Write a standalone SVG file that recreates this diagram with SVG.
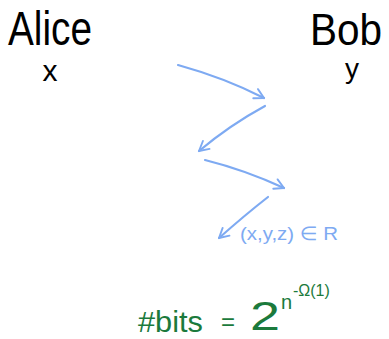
<svg xmlns="http://www.w3.org/2000/svg" width="389" height="339" viewBox="0 0 389 339">
<defs>
<style>
.ink{font-family:"Liberation Sans","DejaVu Sans",sans-serif;fill:#000}
.blue{font-family:"Liberation Sans","DejaVu Sans",sans-serif;fill:#7eaaf2}
.green{font-family:"Liberation Sans","DejaVu Sans",sans-serif;fill:#1b7a3c}
.arrow{fill:none;stroke:#7eaaf2;stroke-width:2.2;stroke-linecap:round;stroke-linejoin:round;marker-end:url(#head)}
</style>
<marker id="head" markerUnits="userSpaceOnUse" markerWidth="24" markerHeight="24" refX="0" refY="0" viewBox="-14 -12 28 24" orient="auto" overflow="visible">
<path d="M-11,-6 L0,0 L-11,6" fill="none" stroke="#7eaaf2" stroke-width="2.2" stroke-linecap="round" stroke-linejoin="round"/>
</marker>
</defs>
<rect width="389" height="339" fill="#fff"/>
<g id="alice">
<text class="ink" x="8" y="45" font-size="48" textLength="84" lengthAdjust="spacingAndGlyphs">Alice</text>
<text class="ink" x="50" y="81" font-size="30" text-anchor="middle">x</text>
</g>
<g id="bob">
<text class="ink" x="310" y="45" font-size="44" textLength="72" lengthAdjust="spacingAndGlyphs">Bob</text>
<text class="ink" x="352" y="78" font-size="28" text-anchor="middle">y</text>
</g>
<g id="connectors">
<path class="arrow" d="M178,65 Q225,78 264,98"/>
<path class="arrow" d="M265,106 Q230,125 199,151"/>
<path class="arrow" d="M205,160 Q245,170 284,188"/>
<path class="arrow" d="M268,197 Q245,215 219,238"/>
</g>
<g id="relation">
<text class="blue" x="240" y="240" font-size="19" textLength="98" lengthAdjust="spacingAndGlyphs">(x,y,z) ∈ R</text>
</g>
<g id="bits">
<text class="green" x="138" y="332" font-size="30" textLength="65" lengthAdjust="spacingAndGlyphs">#bits</text>
<text class="green" x="221" y="330" font-size="24">=</text>
<text class="green" x="250" y="330" font-size="40" textLength="30" lengthAdjust="spacingAndGlyphs">2</text>
<text class="green" x="281" y="309" font-size="20">n</text>
<text class="green" x="293" y="296" font-size="16">-Ω(1)</text>
</g>
</svg>
